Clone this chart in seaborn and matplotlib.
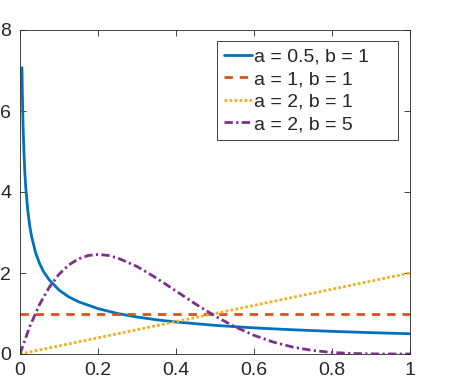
import matplotlib
matplotlib.use("Agg")
import matplotlib.pyplot as plt
import seaborn as sns
import pandas as pd

# Values
x_a = [0.005, 0.006, 0.007, 0.008, 0.01, 0.0125, 0.015, 0.02, 0.025, 0.03, 0.04, 0.05,
       0.06, 0.075, 0.1, 0.125, 0.15, 0.2, 0.25, 0.3, 0.35, 0.4, 0.5, 0.6, 0.7, 0.8, 0.9, 1.0]
y_a = [7.07, 6.45, 5.98, 5.59, 5.0, 4.47, 4.08, 3.54, 3.16, 2.89, 2.5, 2.24,
       2.04, 1.83, 1.58, 1.41, 1.29, 1.12, 1.0, 0.913, 0.845, 0.791, 0.707, 0.645, 0.598, 0.559, 0.527, 0.5]

x_b = [0.0, 1.0]
y_b = [1.0, 1.0]

x_c = [0.0, 1.0]
y_c = [0.0, 2.0]

x_d = [0.0, 0.025, 0.05, 0.075, 0.1, 0.125, 0.15, 0.175, 0.2, 0.225, 0.25, 0.3, 0.35, 0.4,
       0.45, 0.5, 0.55, 0.6, 0.65, 0.7, 0.75, 0.8, 0.85, 0.9, 0.95, 1.0]
y_d = [0.0, 0.678, 1.222, 1.648, 1.968, 2.198, 2.349, 2.432, 2.458, 2.435, 2.373, 2.161, 1.874, 1.555,
       1.235, 0.9375, 0.677, 0.461, 0.293, 0.170, 0.088, 0.038, 0.013, 0.003, 0.0002, 0.0]

labels = ["a = 0.5, b = 1", "a = 1, b = 1", "a = 2, b = 1", "a = 2, b = 5"]
colors = ["#0072BD", "#D95319", "#EDB120", "#7E2F8E"]
dashes = ["", (3, 2.5), (1, 0.8), (3, 1.2, 0.8, 1.2)]

xticks = [0, 0.2, 0.4, 0.6, 0.8, 1]
xticklabels = ["0", "0.2", "0.4", "0.6", "0.8", "1"]
yticks = [0, 2, 4, 6, 8]
yticklabels = ["0", "2", "4", "6", "8"]

frames = []
for xs, ys, lab in zip([x_a, x_b, x_c, x_d], [y_a, y_b, y_c, y_d], labels):
    frames.append(pd.DataFrame({"x": xs, "y": ys, "series": lab}))
df = pd.concat(frames, ignore_index=True)

sns.set_style("white")
plt.rcParams["font.family"] = ["Liberation Sans", "DejaVu Sans"]

W, H = 474, 381
fig = plt.figure(figsize=(W / 100, H / 100), dpi=100)
ax = fig.add_axes([20 / W, 1 - 354 / H, 390 / W, 324 / H])

sns.lineplot(data=df, x="x", y="y", hue="series", style="series",
             hue_order=labels, style_order=labels,
             palette=dict(zip(labels, colors)), dashes=dict(zip(labels, dashes)),
             linewidth=2.0, ax=ax, sort=False, estimator=None)

ax.set_xlim(0, 1)
ax.set_ylim(0, 8)
ax.set_xticks(xticks)
ax.set_xticklabels(xticklabels)
ax.set_yticks(yticks)
ax.set_yticklabels(yticklabels)
ax.set_xlabel("")
ax.set_ylabel("")
ax.tick_params(direction="in", length=4, width=0.6, colors="#262626", labelsize=14,
               top=True, right=True, bottom=True, left=True, pad=6)
ax.tick_params(axis="y", pad=6.3)
for s in ax.spines.values():
    s.set_visible(True)
    s.set_color("#262626")
    s.set_linewidth(0.6)

handles, labs = ax.get_legend_handles_labels()
leg = ax.legend(handles, labs, loc="upper left", mode="expand",
                bbox_to_anchor=(217 / W, 1 - 142 / H, 181 / W, 101 / H),
                bbox_transform=fig.transFigure,
                borderaxespad=0, fontsize=14, handlelength=1.44, handletextpad=0.1,
                labelspacing=0.25, borderpad=0.37, fancybox=False, framealpha=1,
                edgecolor="#262626")
leg.get_frame().set_linewidth(0.6)

fig.savefig("out.png", dpi=100)
